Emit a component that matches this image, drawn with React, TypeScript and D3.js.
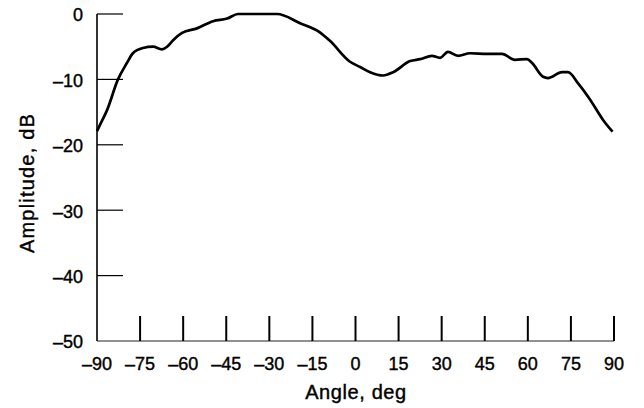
import * as d3 from "d3";
import React from "react";

// angle (deg) and amplitude (dB)
const angles = [
  -90, -89, -86.5, -82.7, -79.6, -77.5, -74, -70.5, -67.4, -65.6, -63.5, -60.4, -55.2, -49.6, -44.7,
  -40.9, -34, -27.3, -19.3, -12.4, -8.9, -1.9, 1.6, 5.1, 9.6, 13.1, 19, 22.5, 26.6, 29.4, 32.2, 35.7,
  39.9, 45.8, 51, 55.5, 59.7, 61.5, 65.3, 67, 71.9, 74, 77.5, 81.7, 86.2, 89.5,
];
const amplitudes = [
  -17.9, -17.0, -14.7, -10, -7.5, -6.0, -5.2, -5.0, -5.4, -5.0, -4.0, -2.9, -2.2, -1.1, -0.7,
  0, 0, 0, -1.4, -2.8, -4.1, -7.3, -8.1, -8.9, -9.4, -8.9, -7.2, -6.9, -6.4, -6.7, -5.8, -6.4,
  -6.0, -6.1, -6.1, -7.0, -6.9, -7.5, -9.6, -9.8, -8.9, -8.9, -10.6, -13.1, -16.2, -18.0,
];
const xTicks = [-90, -75, -60, -45, -30, -15, 0, 15, 30, 45, 60, 75, 90];
const yTicks = [0, -10, -20, -30, -40, -50];

const W = 644;
const H = 408;
const FONT = "'Liberation Sans', Arial, sans-serif";

export default function App() {
  const x = d3.scaleLinear().domain([-90, 90]).range([97, 614]);
  const y = d3.scaleLinear().domain([-50, 0]).range([341, 14]);

  const pts: [number, number][] = angles.map((a, i) => [a, amplitudes[i]]);
  const line = d3
    .line<[number, number]>()
    .x((d) => x(d[0]))
    .y((d) => y(d[1]))
    .curve(d3.curveMonotoneX);

  const fmt = (v: number) => (v < 0 ? "\u2013" + Math.abs(v) : String(v));
  // scanned type looks a little heavier than regular
  const txt = { fontFamily: FONT, fill: "#000", stroke: "#000", strokeWidth: 0.4 };

  return (
    <svg
      width={W}
      height={H}
      viewBox={`0 0 ${W} ${H}`}
      style={{ position: "absolute", left: 0, top: 0, background: "#fff" }}
    >
      {/* axes */}
      <line x1={x(-90)} x2={x(-90)} y1={y(0)} y2={y(-50)} stroke="#000" strokeWidth={1.6} />
      <line x1={x(-90)} x2={x(90)} y1={y(-50)} y2={y(-50)} stroke="#222" strokeWidth={1.2} />

      {yTicks.map((t) => (
        <g key={"y" + t}>
          {t !== -50 && (
            <line x1={x(-90)} x2={x(-90) + 26} y1={y(t)} y2={y(t)} stroke="#000" strokeWidth={1.2} />
          )}
          <text x={83} y={y(t) + 1} dy="0.36em" textAnchor="end" fontSize={18} {...txt}>
            {fmt(t)}
          </text>
        </g>
      ))}

      {xTicks.map((t) => (
        <g key={"x" + t}>
          {t !== -90 && (
            <line x1={x(t)} x2={x(t)} y1={y(-50)} y2={y(-50) - 25} stroke="#000" strokeWidth={2} />
          )}
          <text x={x(t)} y={370} textAnchor="middle" fontSize={18} {...txt}>
            {fmt(t)}
          </text>
        </g>
      ))}

      <path d={line(pts) ?? ""} fill="none" stroke="#000" strokeWidth={2.7} strokeLinejoin="round" />

      <text x={356} y={399} textAnchor="middle" fontSize={20} letterSpacing={0.6} {...txt}>
        Angle, deg
      </text>
      <text
        transform={`translate(34,183) rotate(-90)`}
        textAnchor="middle"
        fontSize={20}
        letterSpacing={1.2}
        {...txt}
      >
        Amplitude, dB
      </text>
    </svg>
  );
}
